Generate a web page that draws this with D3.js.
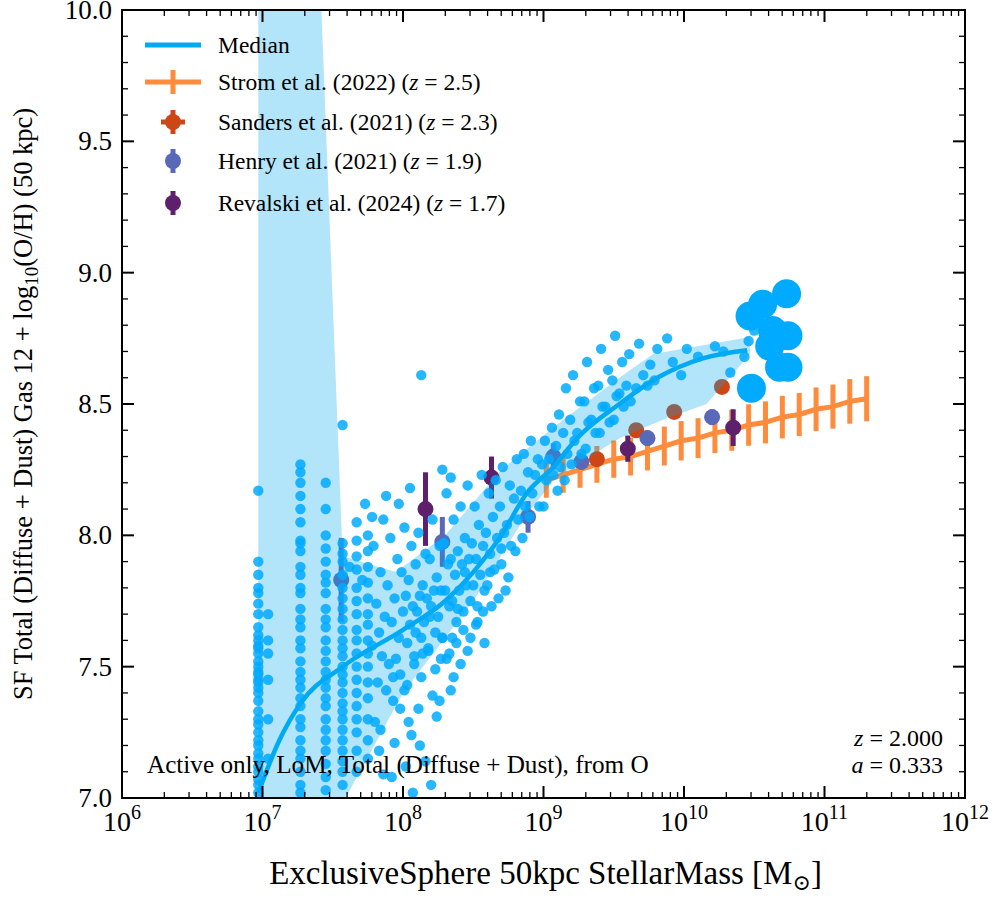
<!DOCTYPE html>
<html><head><meta charset="utf-8">
<script src="https://cdn.jsdelivr.net/npm/d3@7"></script>
<style>body{margin:0;background:#fff}text{font-family:"Liberation Serif","DejaVu Serif",serif}</style>
</head><body><svg id="c" width="996" height="900"></svg>
<script>
// discrete low-mass stripes: [logM, [Z values]]
const stripes = [
  [6.97, [8.17,7.9,7.85,7.8,7.78,7.74,7.7,7.65,7.62,7.6,7.57,7.55,7.52,7.5,7.47,7.44,7.42,7.4,7.37,7.33,7.3,7.28,7.25,7.22,7.2,7.17,7.15,7.12,7.1,7.07,7.05,7.02,7.45,7.48,7.58]],
  [7.04, [7.6,7.55,7.45,7.3,7.15,7.7]],
  [7.27, [8.27,8.24,8.2,8.15,8.1,8.05,7.97,7.94,7.88,7.85,7.8,7.78,7.72,7.68,7.65,7.6,7.57,7.52,7.48,7.45,7.42,7.38,7.35,7.3,7.27,7.22,7.18,7.15,7.1,7.05,7.02,7.98]],
  [7.45, [8.2,8.1,8.0,7.95,7.9,7.85,7.82,7.78,7.72,7.68,7.65,7.6,7.56,7.52,7.48,7.45,7.42,7.38,7.35,7.3,7.26,7.22,7.18,7.13,7.08,7.03]],
  [7.57, [8.42,7.97,7.93,7.9,7.85,7.8,7.76,7.72,7.68,7.64,7.6,7.57,7.54,7.5,7.47,7.44,7.4,7.36,7.33,7.3,7.26,7.22,7.18,7.14,7.1,7.05]],
  [7.67, [8.05,7.98,7.92,7.87,7.8,7.75,7.7,7.64,7.6,7.55,7.5,7.45,7.4,7.35,7.3,7.25,7.18,7.1]],
  [7.75, [8.0,7.94,7.88,7.82,7.76,7.7,7.66,7.6,7.55,7.5,7.44,7.38,7.3,7.22,7.15]]
];
// higher-mass cloud as "logM Z" pairs
const cloud = ("7.79 7.96,7.81 7.74,7.78 7.58,7.82 7.44,7.8 7.29,7.83 7.18,7.86 8.06,7.84 7.86,7.87 7.69,7.85 7.54,7.88 7.41,7.84 7.26,7.86 7.09," +
"7.91 7.99,7.89 7.81,7.92 7.67,7.9 7.51,7.93 7.37,7.96 7.91,7.94 7.76,7.97 7.61,7.95 7.53,7.98 7.34,7.94 7.21," +
"8.01 8.03,7.99 7.86,8.02 7.77,8.0 7.71,8.03 7.59,7.98 7.47,8.01 7.41,8.04 7.29,8.06 7.96,8.04 7.83,8.07 7.73,8.05 7.66,8.08 7.54,8.03 7.43,8.06 7.24," +
"8.11 8.01,8.09 7.89,8.12 7.77,8.1 7.71,8.13 7.61,8.08 7.51,8.11 7.34,8.16 7.93,8.14 7.81,8.17 7.76,8.15 7.67,8.18 7.57,8.13 7.46,8.16 7.14,8.13 8.61," +
"8.21 8.06,8.19 7.91,8.22 7.79,8.2 7.73,8.23 7.63,8.18 7.56,8.21 7.39,8.24 7.31,8.26 7.96,8.24 7.84,8.27 7.79,8.25 7.69,8.28 7.61,8.23 7.49,8.26 7.37," +
"8.31 8.16,8.29 7.97,8.32 7.89,8.3 7.79,8.33 7.73,8.28 7.61,8.31 7.53,8.34 7.41,8.36 8.06,8.34 7.91,8.37 7.85,8.35 7.75,8.38 7.67,8.33 7.55,8.36 7.46," +
"8.41 8.11,8.39 7.94,8.42 7.89,8.4 7.79,8.43 7.71,8.38 7.59,8.41 7.51,8.46 8.19,8.44 7.99,8.47 7.91,8.45 7.81,8.48 7.75,8.43 7.64,8.46 7.56," +
"8.51 8.11,8.49 7.97,8.52 7.91,8.5 7.81,8.53 7.73,8.48 7.61,8.56 8.23,8.54 8.04,8.57 7.96,8.55 7.85,8.58 7.79,8.53 7.67," +
"8.61 8.16,8.59 8.01,8.62 7.93,8.6 7.81,8.63 7.73,8.58 7.59,8.66 8.21,8.64 8.07,8.67 7.99,8.65 7.87,8.68 7.76,8.71 8.26,8.69 8.11,8.72 8.01,8.7 7.89,8.73 7.79," +
"8.76 8.19,8.74 8.04,8.77 7.96,8.75 7.84,8.81 8.29,8.79 8.14,8.82 8.06,8.8 7.94,8.86 8.31,8.84 8.17,8.87 8.11,8.85 7.99,8.91 8.36,8.89 8.24,8.92 8.16,8.9 8.07," +
"8.96 8.29,8.94 8.23,8.97 8.11,7.92 7.08,8.02 7.12,8.12 7.2,8.2 7.05,8.07 7.02,7.73 8.12,7.78 8.07,7.88 8.15,7.97 8.12,8.05 8.18,8.28 8.25,8.34 8.22," +
"7.62 7.88,7.71 7.83,7.83 7.63,7.93 7.46,8.09 7.63,8.19 7.69,8.27 7.53,8.39 7.72,8.44 7.86,8.52 7.66,8.62 7.86,8.7 7.95,8.57 7.71,8.35 7.61,8.14 7.55," +
"9.01 8.36,8.99 8.27,9.02 8.21,9.0 8.11,9.06 8.41,9.04 8.29,9.07 8.23,9.11 8.46,9.09 8.34,9.12 8.26,9.1 8.17,9.16 8.56,9.14 8.39,9.17 8.31,9.15 8.21," +
"9.21 8.61,9.19 8.44,9.22 8.36,9.2 8.27,9.26 8.51,9.24 8.39,9.27 8.31,9.31 8.66,9.29 8.51,9.32 8.43,9.3 8.33,9.36 8.56,9.34 8.44,9.37 8.39," +
"9.41 8.71,9.39 8.57,9.42 8.49,9.4 8.39,9.46 8.63,9.44 8.49,9.47 8.43,9.51 8.76,9.49 8.59,9.52 8.53,9.5 8.44,9.56 8.66,9.54 8.54,9.57 8.49," +
"9.61 8.69,9.59 8.57,9.62 8.51,9.68 8.73,9.71 8.61,9.66 8.56,9.76 8.65,9.74 8.57,9.81 8.71,9.79 8.59,9.88 8.75,9.92 8.66,10.02 8.71,9.98 8.61," +
"10.1 8.68,10.22 8.72,10.28 8.7,10.33 8.62,10.44 8.86,10.46 8.74,10.43 8.68,10.5 8.78").split(",").map(s => s.split(" ").map(Number));
const bigM = [10.56,10.73,10.47,10.63,10.74,10.61,10.68,10.74,10.48];
const bigZ = [8.88,8.92,8.835,8.78,8.76,8.72,8.64,8.64,8.56];

const medM = [6.97,7.12,7.27,7.57,8.0,8.3,8.5,8.7,8.88,9.07,9.24,9.54,9.81,10.14,10.45];
const medZ = [7.02,7.22,7.36,7.50,7.64,7.75,7.86,8.0,8.16,8.26,8.37,8.50,8.60,8.675,8.705];
const bandUpM = [6.97,7.57,7.95,8.3,8.7,9.14,9.54,9.78,10.47];
const bandUpZ = [16.2,7.92,7.86,8.0,8.25,8.44,8.60,8.69,8.755];
const bandLoM = [6.97,7.57,8.0,8.5,8.88,9.09,9.54,9.85,10.16,10.47];
const bandLoZ = [5.5,6.98,7.4,7.75,8.08,8.22,8.37,8.44,8.50,8.69];

const stromM = [9.02,9.14,9.26,9.38,9.50,9.62,9.74,9.86,9.98,10.10,10.22,10.34,10.46,10.58,10.70,10.82,10.94,11.06,11.18,11.30];
const stromZ = [8.21,8.23,8.25,8.27,8.29,8.30,8.32,8.34,8.36,8.37,8.39,8.40,8.42,8.43,8.45,8.46,8.48,8.49,8.51,8.52];
const stromE = [0.067,0.068,0.069,0.07,0.071,0.072,0.073,0.074,0.075,0.076,0.077,0.078,0.079,0.08,0.081,0.082,0.083,0.084,0.085,0.086];
const sandersM = [9.38,9.66,9.93,10.27], sandersZ = [8.29,8.40,8.47,8.565], sandersE = [0.02,0.02,0.02,0.02];
const henryM = [7.56,8.28,8.89,9.07,9.27,9.74,10.2], henryZ = [7.83,7.975,8.07,8.30,8.28,8.37,8.45], henryE = [0.16,0.095,0.06,0.05,0.03,0.03,0.03];
const revalM = [8.16,8.63,9.6,10.35], revalZ = [8.10,8.22,8.33,8.41], revalE = [0.14,0.08,0.05,0.07];

const cBlue = "#00aaff", cStrom = "#ff8c3d", cSand = "#cc4616", cHenry = "#5a68b8", cRev = "#5e206c";

const svg = d3.select("#c");
const L = 122, R = 965, T = 10, B = 798;
const x = d3.scaleLog().domain([1e6, 1e12]).range([L, R]);
const y = d3.scaleLinear().domain([7, 10]).range([B, T]);
const X = m => x(Math.pow(10, m));

svg.append("clipPath").attr("id", "cp").append("rect").attr("x", L).attr("y", T).attr("width", R - L).attr("height", B - T);
const g = svg.append("g").attr("clip-path", "url(#cp)");

function errPts(ms, zs, es, col, r) {
  ms.forEach((m, i) => {
    g.append("line").attr("x1", X(m)).attr("x2", X(m)).attr("y1", y(zs[i] - es[i])).attr("y2", y(zs[i] + es[i]))
      .attr("stroke", col).attr("stroke-width", 5);
    g.append("circle").attr("cx", X(m)).attr("cy", y(zs[i])).attr("r", r).attr("fill", col);
  });
}
// observations
g.append("path").datum(stromM.map((m, i) => [m, stromZ[i]]))
  .attr("d", d3.line().x(d => X(d[0])).y(d => y(d[1]))).attr("fill", "none").attr("stroke", cStrom).attr("stroke-width", 5);
stromM.forEach((m, i) => g.append("line").attr("x1", X(m)).attr("x2", X(m))
  .attr("y1", y(stromZ[i] - stromE[i])).attr("y2", y(stromZ[i] + stromE[i])).attr("stroke", cStrom).attr("stroke-width", 5));
errPts(sandersM, sandersZ, sandersE, cSand, 8);
errPts(henryM, henryZ, henryE, cHenry, 8);
errPts(revalM, revalZ, revalE, cRev, 8);

// band
const band = bandUpM.map((m, i) => [m, bandUpZ[i]]).concat(bandLoM.map((m, i) => [m, bandLoZ[i]]).reverse());
g.append("path").datum(band).attr("d", d3.line().x(d => X(d[0])).y(d => y(d[1])))
  .attr("fill", "#00a5ee").attr("fill-opacity", 0.3);

// scatter
const pts = [];
stripes.forEach(s => s[1].forEach(z => pts.push([s[0], z])));
cloud.forEach(p => pts.push(p));
g.selectAll(".p").data(pts).join("circle").attr("cx", d => X(d[0])).attr("cy", d => y(d[1]))
  .attr("r", 5.2).attr("fill", cBlue).attr("fill-opacity", 0.85);
g.selectAll(".b").data(bigM).join("circle").attr("cx", d => X(d)).attr("cy", (d, i) => y(bigZ[i]))
  .attr("r", 14.5).attr("fill", cBlue);

// median
g.append("path").datum(medM.map((m, i) => [m, medZ[i]]))
  .attr("d", d3.line().curve(d3.curveMonotoneX).x(d => X(d[0])).y(d => y(d[1])))
  .attr("fill", "none").attr("stroke", "#00aaf2").attr("stroke-width", 4.5);

// frame + ticks
svg.append("rect").attr("x", L).attr("y", T).attr("width", R - L).attr("height", B - T).attr("fill", "none").attr("stroke", "#000").attr("stroke-width", 2);
const ax = svg.append("g");
d3.range(6, 13).forEach(e => {
  const px = x(Math.pow(10, e));
  [[B, -1], [T, 1]].forEach(([yy, s]) => ax.append("line").attr("x1", px).attr("x2", px).attr("y1", yy).attr("y2", yy + s * 12).attr("stroke", "#000").attr("stroke-width", 2));
  ax.append("text").attr("x", px).attr("y", B + 33).attr("text-anchor", "middle").attr("font-size", 28)
    .text("10").append("tspan").attr("dy", -12).attr("font-size", 20).text(e);
  if (e < 12) d3.range(2, 10).forEach(k => {
    const pm = x(k * Math.pow(10, e));
    [[B, -1], [T, 1]].forEach(([yy, s]) => ax.append("line").attr("x1", pm).attr("x2", pm).attr("y1", yy).attr("y2", yy + s * 6).attr("stroke", "#000").attr("stroke-width", 1.3));
  });
});
d3.range(70, 101).forEach(k => {
  const v = k / 10, py = y(v), major = k % 5 === 0;
  const len = major ? 12 : 6;
  [[L, 1], [R, -1]].forEach(([xx, s]) => ax.append("line").attr("x1", xx).attr("x2", xx + s * len).attr("y1", py).attr("y2", py).attr("stroke", "#000").attr("stroke-width", major ? 2 : 1.3));
  if (major) ax.append("text").attr("x", L - 10).attr("y", py + 9).attr("text-anchor", "end").attr("font-size", 27).text(v.toFixed(1));
});

const xt = svg.append("text").attr("x", (L + R) / 2 + 2).attr("y", 884).attr("text-anchor", "middle").attr("font-size", 33);
xt.append("tspan").text("ExclusiveSphere 50kpc StellarMass [M");
xt.append("tspan").attr("dy", 6).attr("font-size", 22).text("\u2299");
xt.append("tspan").attr("dy", -6).text("]");
const yt = svg.append("text").attr("transform", `translate(32,404) rotate(-90)`).attr("text-anchor", "middle").attr("font-size", 26.5);
yt.append("tspan").text("SF Total (Diffuse + Dust) Gas 12 + log");
yt.append("tspan").attr("dy", 6).attr("font-size", 19).text("10");
yt.append("tspan").attr("dy", -6).text("(O/H) (50 kpc)");

svg.append("text").attr("x", 147).attr("y", 773).attr("font-size", 25.2).text("Active only, LoM, Total (Diffuse + Dust), from O");
[["z", "2.000", 746], ["a", "0.333", 773]].forEach(([s, v, yy]) => {
  const t = svg.append("text").attr("x", 943).attr("y", yy).attr("text-anchor", "end").attr("font-size", 24);
  t.append("tspan").attr("font-style", "italic").text(s);
  t.append("tspan").text(" = " + v);
});

// legend
const leg = svg.append("g");
const rows = [
  ["Median", 45, "line"], ["Strom et al. (2022) (", 82, "strom", "2.5"],
  ["Sanders et al. (2021) (", 122, cSand, "2.3"], ["Henry et al. (2021) (", 161, cHenry, "1.9"],
  ["Revalski et al. (2024) (", 203, cRev, "1.7"]];
rows.forEach(r => {
  const yy = r[1];
  if (r[2] === "line") leg.append("line").attr("x1", 145).attr("x2", 201).attr("y1", yy).attr("y2", yy).attr("stroke", "#00aaf2").attr("stroke-width", 5);
  else if (r[2] === "strom") {
    leg.append("line").attr("x1", 145).attr("x2", 201).attr("y1", yy).attr("y2", yy).attr("stroke", cStrom).attr("stroke-width", 5);
    leg.append("line").attr("x1", 173).attr("x2", 173).attr("y1", yy - 12).attr("y2", yy + 12).attr("stroke", cStrom).attr("stroke-width", 5);
  } else {
    leg.append("line").attr("x1", 173).attr("x2", 173).attr("y1", yy - 12).attr("y2", yy + 12).attr("stroke", r[2]).attr("stroke-width", 5);
    leg.append("circle").attr("cx", 173).attr("cy", yy).attr("r", 8).attr("fill", r[2]);
    if (r[2] === cSand) leg.append("line").attr("x1", 161).attr("x2", 185).attr("y1", yy).attr("y2", yy).attr("stroke", cSand).attr("stroke-width", 5);
  }
  const t = leg.append("text").attr("x", 218).attr("y", yy + 8).attr("font-size", 23.5).text(r[0]);
  if (r[3]) { t.append("tspan").attr("font-style", "italic").text("z"); t.append("tspan").text(" = " + r[3] + ")"); }
});
</script></body></html>
